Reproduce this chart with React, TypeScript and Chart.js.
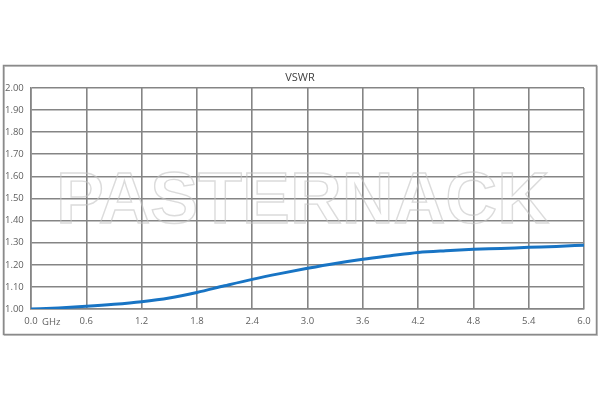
import React, { useEffect, useRef } from "react";
import { Chart, registerables } from "chart.js";

Chart.register(...registerables);

const freqGHz = [0.0, 0.3, 0.6, 0.9, 1.2, 1.5, 1.8, 2.1, 2.4, 2.7, 3.0, 3.3, 3.6, 3.9, 4.2, 4.5, 4.8, 5.1, 5.4, 5.7, 6.0];
const vswr = [1.0, 1.005, 1.012, 1.021, 1.033, 1.05, 1.075, 1.105, 1.134, 1.16, 1.184, 1.206, 1.225, 1.241, 1.256, 1.264, 1.27, 1.274, 1.279, 1.283, 1.289];
const titleText = "VSWR";
const unitLabel = "GHz";
const watermarkText = "PASTERNACK";

const FONT = "'Open Sans', 'Liberation Sans', Arial, sans-serif";
const WM_FONT = "'Liberation Sans', Arial, sans-serif";

const decorPlugin = {
  id: "decor",
  beforeDraw(chart: any) {
    const ctx = chart.ctx;
    ctx.save();
    ctx.fillStyle = "#ffffff";
    ctx.fillRect(0, 0, chart.width, chart.height);
    ctx.strokeStyle = "#c8c8c8";
    ctx.lineWidth = 1;
    ctx.strokeRect(4.5, 66.5, 593, 269);
    ctx.strokeStyle = "#8a8a8a";
    ctx.lineWidth = 1.5;
    ctx.strokeRect(3.5, 65.5, 593, 269);
    ctx.fillStyle = "#404040";
    ctx.font = `11px ${FONT}`;
    ctx.textAlign = "center";
    ctx.textBaseline = "middle";
    ctx.fillText(titleText, 300, 77.5);
    ctx.restore();
  },
  beforeDatasetsDraw(chart: any) {
    const ctx = chart.ctx;
    ctx.save();
    ctx.font = `bold 73px ${WM_FONT}`;
    const w = ctx.measureText(watermarkText).width;
    const target = 493;
    ctx.translate(56, 223);
    ctx.scale(target / w, 1);
    ctx.textAlign = "left";
    ctx.textBaseline = "alphabetic";
    ctx.strokeStyle = "rgba(195,195,195,0.6)";
    ctx.lineWidth = 1.4;
    ctx.strokeText(watermarkText, 0, 0);
    ctx.restore();
    const xs = chart.scales.x;
    ctx.save();
    ctx.fillStyle = "#5f5f5f";
    ctx.font = `9.5px ${FONT}`;
    ctx.textAlign = "center";
    ctx.textBaseline = "middle";
    ctx.fillText(unitLabel, xs.getPixelForValue(0.22), 322);
    ctx.restore();
  },
};

export default function App() {
  const ref = useRef<HTMLCanvasElement | null>(null);
  useEffect(() => {
    document.body.style.margin = "0";
    const canvas = ref.current!;
    const chart = new Chart(canvas, {
      type: "line",
      data: {
        datasets: [
          {
            data: freqGHz.map((f, i) => ({ x: f, y: vswr[i] })),
            borderColor: "#1874c4",
            borderWidth: 3,
            pointRadius: 0,
            cubicInterpolationMode: "monotone",
            fill: false,
          },
        ],
      },
      options: {
        animation: false,
        responsive: false,
        devicePixelRatio: 1,
        layout: { padding: { left: 5, right: 16, top: 88, bottom: 61 } },
        plugins: { legend: { display: false }, tooltip: { enabled: false }, title: { display: false } },
        scales: {
          x: {
            type: "linear",
            min: 0,
            max: 6,
            afterBuildTicks(axis: any) {
              const t = [];
              for (let i = 0; i <= 10; i++) t.push({ value: i * 0.6 });
              axis.ticks = t;
            },
            afterFit(axis: any) {
              axis.height = 30;
            },
            ticks: {
              callback: (v: any) => Number(v).toFixed(1),
              color: "#5f5f5f",
              font: { family: FONT, size: 9.5 },
              padding: 7,
              maxRotation: 0,
              autoSkip: false,
            },
            grid: { color: "#858585", lineWidth: 1.6, drawTicks: false },
            border: { color: "#858585", width: 1.6 },
          },
          y: {
            min: 1,
            max: 2,
            afterBuildTicks(axis: any) {
              const t = [];
              for (let i = 0; i <= 10; i++) t.push({ value: 1 + i * 0.1 });
              axis.ticks = t;
            },
            afterFit(axis: any) {
              axis.width = 26;
            },
            ticks: {
              callback: (v: any) => Number(v).toFixed(2),
              color: "#5f5f5f",
              font: { family: FONT, size: 9.5 },
              crossAlign: "far",
              padding: 4,
              autoSkip: false,
            },
            grid: { color: "#858585", lineWidth: 1.6, drawTicks: false },
            border: { color: "#858585", width: 1.6 },
          },
        },
      },
      plugins: [decorPlugin],
    } as any);
    return () => chart.destroy();
  }, []);
  return (
    <div style={{ width: 600, height: 400 }}>
      <canvas ref={ref} width={600} height={400} style={{ display: "block" }} />
    </div>
  );
}
